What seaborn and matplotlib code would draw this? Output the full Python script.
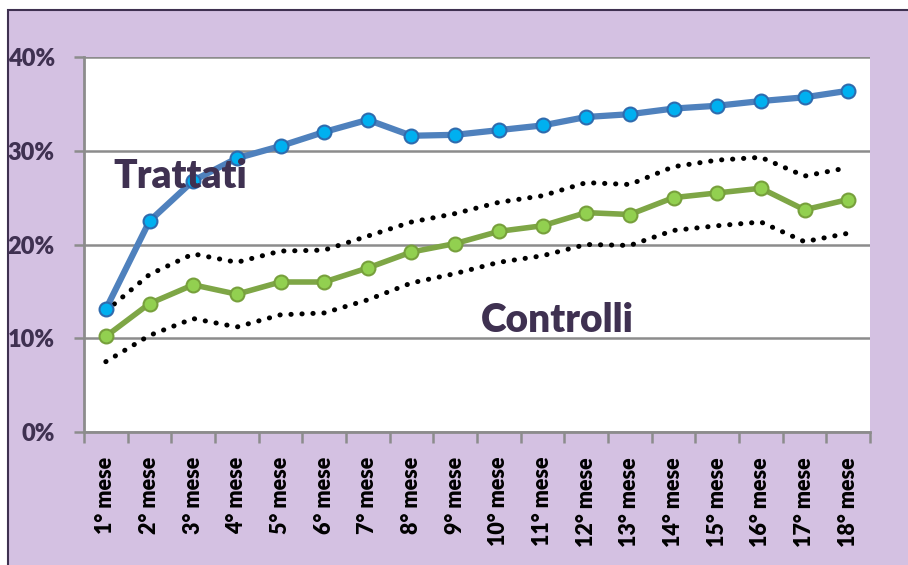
import pandas as pd
import matplotlib.pyplot as plt
import matplotlib.patches as mpatches
from matplotlib.ticker import FixedLocator, FuncFormatter
import seaborn as sns

# Data (percent)
months = [f"{i}° mese" for i in range(1, 19)]
trattati = [13.1, 22.5, 26.8, 29.2, 30.5, 32.0, 33.3, 31.6, 31.7, 32.2,
            32.7, 33.6, 33.9, 34.5, 34.8, 35.3, 35.7, 36.4]
controlli = [10.2, 13.7, 15.7, 14.7, 16.0, 16.0, 17.5, 19.2, 20.1, 21.4,
             22.0, 23.4, 23.2, 25.0, 25.5, 26.0, 23.7, 24.8]
controlli_sup = [12.9, 16.8, 19.0, 18.1, 19.3, 19.4, 20.9, 22.4, 23.3, 24.5,
                 25.2, 26.6, 26.4, 28.3, 29.0, 29.3, 27.3, 28.2]
controlli_inf = [7.5, 10.3, 12.1, 11.2, 12.5, 12.7, 14.1, 15.9, 16.9, 18.1,
                 18.8, 20.0, 19.9, 21.5, 22.0, 22.4, 20.3, 21.2]

df = pd.DataFrame({
    'mese': months,
    'trattati': trattati,
    'controlli': controlli,
    'sup': controlli_sup,
    'inf': controlli_inf,
})

PURPLE_BG = '#D4C1E2'
DARK_TEXT = '#3F3151'
GRID = '#8C8C8C'

sns.set_theme(style="white")
plt.rcParams['font.family'] = ['Lato', 'DejaVu Sans']

fig = plt.figure(figsize=(9.08, 5.65), dpi=100)
fig.patch.set_facecolor('white')
# purple frame background
fig.add_artist(mpatches.Rectangle((8 / 908, -0.1), 1.2, 1.1 - 10 / 565,
                                  transform=fig.transFigure, facecolor=PURPLE_BG,
                                  edgecolor=DARK_TEXT, linewidth=1.5, zorder=-10))

ax = fig.add_axes([84 / 908, 1 - 432 / 565, 786 / 908, 375 / 565])
ax.set_zorder(1)
ax.set_facecolor('white')

# confidence band (dotted)
for col in ['sup', 'inf']:
    sns.lineplot(data=df, x='mese', y=col, ax=ax, color='black', linewidth=3.6,
                 sort=False, zorder=3)
for line in ax.lines:
    line.set_linestyle((0, (0.05, 2.15)))
    line.set_dash_capstyle('round')

sns.lineplot(data=df, x='mese', y='controlli', ax=ax, color='#7EA646', linewidth=4,
             marker='o', markersize=10, markerfacecolor='#92D050',
             markeredgecolor='#77A03C', markeredgewidth=1.5, sort=False, zorder=4)
sns.lineplot(data=df, x='mese', y='trattati', ax=ax, color='#4F81BD', linewidth=4.5,
             marker='o', markersize=10, markerfacecolor='#00B0F0',
             markeredgecolor='#2F6BAE', markeredgewidth=1.5, sort=False, zorder=5)

ax.set_xlim(-0.5, len(months) - 0.5)
ax.set_ylim(0, 40)
ax.set_xlabel('')
ax.set_ylabel('')

# y axis
ax.set_yticks([0, 10, 20, 30, 40])
ax.yaxis.set_major_formatter(FuncFormatter(lambda v, p: f"{int(v)}%"))
ax.grid(axis='y', color=GRID, linewidth=1.8)
ax.set_axisbelow(True)
ax.tick_params(axis='y', which='major', left=True, length=7, width=1.8, color=GRID,
               pad=14, labelsize=17, labelcolor=DARK_TEXT)
for lbl in ax.get_yticklabels():
    lbl.set_fontweight('heavy')

# x axis: labels at categories, ticks at boundaries
ax.set_xticks(range(len(months)))
ax.set_xticklabels(months, rotation=90, fontsize=15.5, fontweight='heavy', color='black')
ax.xaxis.set_minor_locator(FixedLocator([i - 0.5 for i in range(len(months) + 1)]))
ax.tick_params(axis='x', which='major', bottom=False, length=0, pad=18)
ax.tick_params(axis='x', which='minor', bottom=True, length=8, width=1.8, color=GRID)

for side in ['top', 'right']:
    ax.spines[side].set_visible(False)
for side in ['left', 'bottom']:
    ax.spines[side].set_color(GRID)
    ax.spines[side].set_linewidth(2)

ax.text(1.7, 27.3, 'Trattati', fontsize=28, fontweight='heavy', color=DARK_TEXT,
        ha='center', va='center', zorder=6)
ax.text(10.35, 11.9, 'Controlli', fontsize=28, fontweight='heavy', color=DARK_TEXT,
        ha='center', va='center', zorder=6)

fig.savefig('out.png', dpi=100, facecolor=fig.get_facecolor())
